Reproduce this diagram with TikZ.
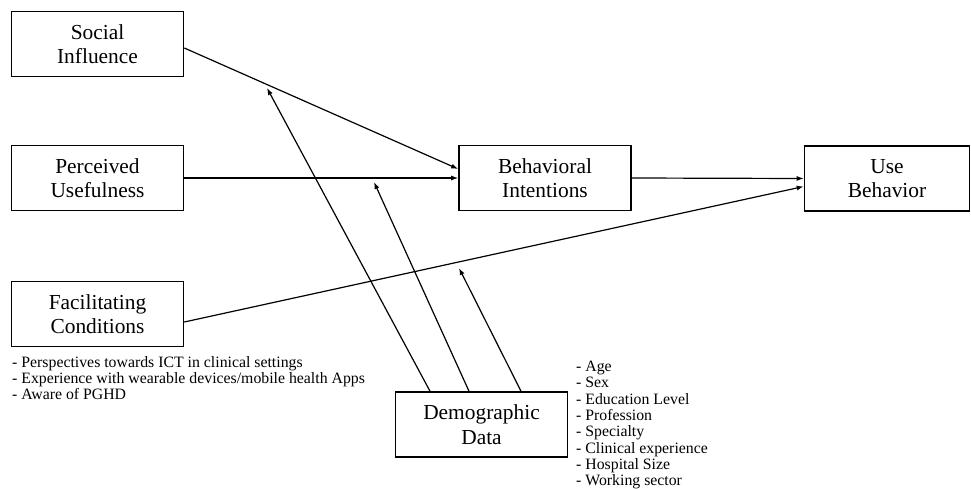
\documentclass[tikz,border=0pt]{standalone}
\usepackage{fontspec}
\setmainfont{Liberation Serif}
\usetikzlibrary{arrows.meta}
\begin{document}
\begin{tikzpicture}[x=1pt,y=-1pt,
  box/.style={draw, line width=1.6pt, minimum width=172pt, minimum height=65pt, align=center, font=\fontsize{21.4}{24.5}\selectfont, inner sep=0pt},
  arr/.style={line width=1.2pt, -{Latex[length=7pt,width=5pt]}},
  lst/.style={align=left, anchor=north west, inner sep=0pt, font=\fontsize{15.8}{16.3}\selectfont}]
\useasboundingbox (0,0) rectangle (971,489);
\node[box] (si) at (97.5,44) {Social\\Influence};
\node[box] (pu) at (97.5,178) {Perceived\\Usefulness};
\node[box] (fc) at (97.5,314) {Facilitating\\Conditions};
\node[box] (bi) at (545,178) {Behavioral\\Intentions};
\node[box, minimum width=165pt] (ub) at (887,178.5) {Use\\Behavior};
\node[box] (dd) at (481.5,424.5) {Demographic\\Data};
\node[lst] (fcl) at (12,356) {- Perspectives towards ICT in clinical settings\\- Experience with wearable devices/mobile health Apps\\- Aware of PGHD};
\node[lst] (ddl) at (576,361) {- Age\\- Sex\\- Education Level\\- Profession\\- Specialty\\- Clinical experience\\- Hospital Size\\- Working sector};
\coordinate (m1) at (267,88);
\coordinate (m2) at (374,182);
\coordinate (m3) at (459,268);
\draw[arr] ([yshift=-4pt]si.east) -- ([yshift=9pt]bi.west);
\draw[arr] (pu.east) -- (bi.west);
\draw[arr] ([yshift=-8pt]fc.east) -- ([yshift=-8pt]ub.west);
\draw[arr] (bi.east) -- (ub.west);
\draw[arr] ([xshift=-51.5pt]dd.north) -- (m1);
\draw[arr] ([xshift=-12.5pt]dd.north) -- (m2);
\draw[arr] ([xshift=39.5pt]dd.north) -- (m3);
\end{tikzpicture}
\end{document}
